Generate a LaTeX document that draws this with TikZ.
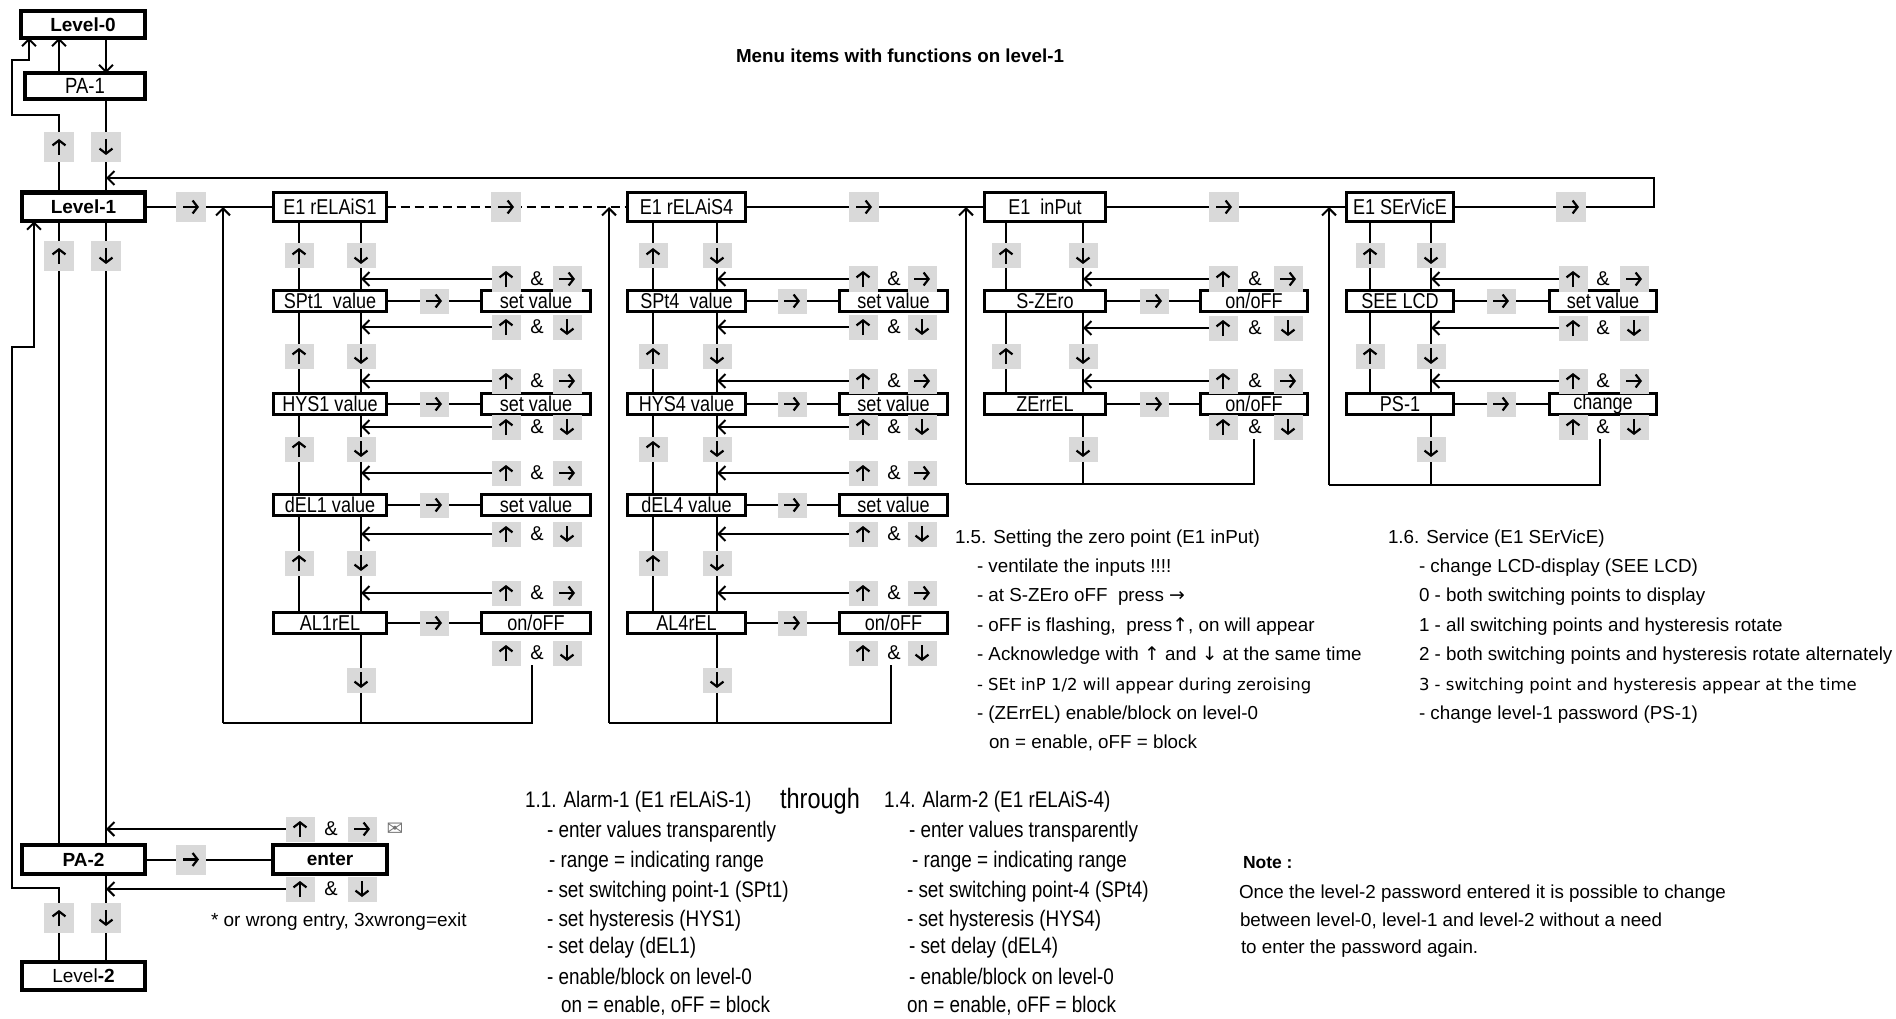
\documentclass[tikz,border=0pt]{standalone}
\usepackage{fontspec}
\setmainfont{Liberation Sans}
\newfontfamily\nar{Liberation Sans}[FakeStretch=0.84]
\newfontfamily\dv{DejaVu Sans}
\usetikzlibrary{arrows.meta}

\tikzset{
 every node/.style={inner sep=0pt, outer sep=0pt},
 conn/.style={line width=2pt},
 arr/.style={line width=2pt, -{Straight Barb[length=7pt,width=14pt]}},
 bx/.style={draw, line width=2.6pt, minimum height=21.4, font=\nar\fontsize{21.5}{21.5}\selectfont},
 e1/.style={bx, minimum height=29.4},
 tbx/.style={draw, line width=4.4pt, minimum height=28.6, font=\bfseries\fontsize{19}{19}\selectfont},
 gbox/.style={fill=black!15, minimum width=29, minimum height=25},
 gbig/.style={minimum width=30, minimum height=30},
 garr/.style={line width=2.2pt, -{Straight Barb[length=5pt,width=13pt]}},
 amp/.style={font=\fontsize{20}{20}\selectfont},
 txt/.style={anchor=mid west, yshift=-4.5pt, font=\fontsize{18.8}{20}\selectfont},
 ntxt/.style={anchor=mid west, yshift=-4.5pt, font=\nar\fontsize{22.5}{24}\selectfont},
 dtxt/.style={anchor=mid west, yshift=-4.5pt, font=\dv\fontsize{16.5}{18}\selectfont},
}

\newcommand\gU[3][]{\node[gbox,#1] (#2) at #3 {};\draw[garr] ([yshift=-8pt]#2.center) -- ([yshift=8pt]#2.center);}
\newcommand\gD[3][]{\node[gbox,#1] (#2) at #3 {};\draw[garr] ([yshift=8pt]#2.center) -- ([yshift=-8pt]#2.center);}
\newcommand\gR[3][]{\node[gbox,#1] (#2) at #3 {};\draw[garr] ([xshift=-8pt]#2.center) -- ([xshift=8pt]#2.center);}
\newcommand\rowR[2]{\gU{#1u}{(\qXU,#2)}\node[amp] (#1a) at (\qXA,#2) {\&};\gR{#1r}{(\qXR,#2)}}
\newcommand\rowD[2]{\gU{#1u}{(\qXU,#2)}\node[amp] (#1a) at (\qXA,#2) {\&};\gD{#1r}{(\qXR,#2)}}

\newcommand\alarmcol[1]{%
\node[e1,minimum width=\qBW] (r#1) at (\qBX,207) {E1 rELAiS#1};
\node[bx,minimum width=\qBW] (r#1b1) at (\qBX,301) {SPt#1~~value};
\node[bx,minimum width=\qBW] (r#1b2) at (\qBX,404) {HYS#1 value};
\node[bx,minimum width=\qBW] (r#1b3) at (\qBX,505) {dEL#1 value};
\node[bx,minimum width=\qBW] (r#1b4) at (\qBX,623) {AL#1rEL};
\node[bx,minimum width=\qSW] (r#1s1) at (\qSX,301) {set value};
\node[bx,minimum width=\qSW] (r#1s2) at (\qSX,404) {set value};
\node[bx,minimum width=\qSW] (r#1s3) at (\qSX,505) {set value};
\node[bx,minimum width=\qSW] (r#1s4) at (\qSX,623) {on/oFF};
\coordinate (r#1up) at (\qUX,0);
\coordinate (r#1dn) at (\qDX,0);
\coordinate (r#1gx) at (\qGX,0);
\coordinate (r#1bot) at (\qVX,723);
\coordinate (r#1ret) at (\qRX,665);
\rowR{r#1ra1}{279}\rowD{r#1rb1}{327}\rowR{r#1ra2}{381}\rowD{r#1rb2}{427}%
\rowR{r#1ra3}{473}\rowD{r#1rb3}{534}\rowR{r#1ra4}{593}\rowD{r#1rb4}{653}%
\foreach \qa/\qb in {r#1/r#1b1,r#1b1/r#1b2,r#1b2/r#1b3,r#1b3/r#1b4}{%
 \draw[conn] (\qa.south -| r#1up) -- (\qb.north -| r#1up);
 \draw[conn] (\qa.south -| r#1dn) -- (\qb.north -| r#1dn);}
\foreach \qr in {ra1,rb1,ra2,rb2,ra3,rb3,ra4}{\draw[arr] (r#1\qr u.west) -- (r#1\qr u.west -| r#1dn);}
\foreach \k in {1,...,4}{\draw[conn] (r#1b\k) -- (r#1s\k); \gR{r#1g\k}{(r#1b\k -| r#1gx)}}
\draw[conn] (r#1b4.south -| r#1dn) -- (r#1bot -| r#1dn);
\draw[conn] (r#1ret) -- (r#1ret |- r#1bot) -- (r#1bot);
\draw[arr] (r#1bot) -- (r#1bot |- r#1.west);
\foreach \y [count=\n] in {256,356,449,563}{\gU{r#1vu\n}{(\qUX,\y)}\gD{r#1vd\n}{(\qDX,\y)}}
\gD{r#1vd5}{(\qDX,680)}
}

\newcommand\twocol[7]{%
\node[e1,minimum width=\qBW] (#1) at (\qBX,207) {#2};
\node[bx,minimum width=\qBW] (#1b1) at (\qBX,301) {#3};
\node[bx,minimum width=\qBW] (#1b2) at (\qBX,404) {#4};
\node[bx,minimum width=\qSW] (#1s1) at (\qSX,301) {#5};
\node[bx,minimum width=\qSW] (#1s2) at (\qSX,404) {#6};
\coordinate (#1up) at (\qUX,0);
\coordinate (#1dn) at (\qDX,0);
\coordinate (#1gx) at (\qGX,0);
\coordinate (#1bot) at (\qVX,#7);
\coordinate (#1ret) at (\qRX,439);
\rowR{#1ra1}{279}\rowD{#1rb1}{328}\rowR{#1ra2}{381}\rowD{#1rb2}{427}%
\foreach \qa/\qb in {#1/#1b1,#1b1/#1b2}{%
 \draw[conn] (\qa.south -| #1up) -- (\qb.north -| #1up);
 \draw[conn] (\qa.south -| #1dn) -- (\qb.north -| #1dn);}
\foreach \qr in {ra1,rb1,ra2}{\draw[arr] (#1\qr u.west) -- (#1\qr u.west -| #1dn);}
\foreach \k in {1,2}{\draw[conn] (#1b\k) -- (#1s\k); \gR{#1g\k}{(#1b\k -| #1gx)}}
\draw[conn] (#1b2.south -| #1dn) -- (#1bot -| #1dn);
\draw[conn] (#1ret) -- (#1ret |- #1bot) -- (#1bot);
\draw[arr] (#1bot) -- (#1bot |- #1.west);
\foreach \y [count=\n] in {256,356}{\gU{#1vu\n}{(\qUX,\y)}\gD{#1vd\n}{(\qDX,\y)}}
\gD{#1vd3}{(\qDX,449)}
}

\begin{document}
\begin{tikzpicture}[x=1pt,y=-1pt]
\path[use as bounding box, fill=white] (0,0) rectangle (1896,1019);

% ---------- title
\node[font=\bfseries\fontsize{18.8}{20}\selectfont] (title) at (900,56) {Menu items with functions on level-1};

% ---------- columns
\def\qBX{330}\def\qBW{113.4}\def\qSX{536}\def\qSW{109.4}\def\qUX{299}\def\qDX{361}\def\qGX{434}
\def\qXU{506}\def\qXA{537}\def\qXR{567}\def\qRX{532}\def\qVX{223}
\alarmcol{1}
\def\qBX{686.5}\def\qBW{118.4}\def\qSX{893.5}\def\qSW{108.4}\def\qUX{653}\def\qDX{717}\def\qGX{792}
\def\qXU{863}\def\qXA{894}\def\qXR{922}\def\qRX{891}\def\qVX{609}
\alarmcol{4}
\def\qBX{1045}\def\qBW{121.4}\def\qSX{1254}\def\qSW{107.4}\def\qUX{1006}\def\qDX{1083}\def\qGX{1154}
\def\qXU{1223}\def\qXA{1255}\def\qXR{1288}\def\qRX{1254}\def\qVX{966}
\twocol{inp}{E1~~inPut}{S-ZEro}{ZErrEL}{on/oFF}{on/oFF}{484}
\def\qBX{1400}\def\qBW{107.4}\def\qSX{1603}\def\qSW{107.4}\def\qUX{1370}\def\qDX{1431}\def\qGX{1501}
\def\qXU{1573}\def\qXA{1603}\def\qXR{1634}\def\qRX{1600}\def\qVX{1329}
\twocol{ser}{E1 SErVicE}{SEE LCD}{PS-1}{set value}{change}{485}

% ---------- left column
\node[tbx,minimum width=123.6,minimum height=26.6] (L0) at (83,24.5) {Level-0};
\node[tbx,minimum width=119.6,minimum height=25.6,font=\nar\fontsize{22}{22}\selectfont] (PA1) at (85,86) {PA-1};
\node[tbx,minimum width=122.6] (L1) at (83.5,207) {Level-1};
\node[tbx,minimum width=122.6] (PA2) at (83.5,859.5) {PA-2};
\node[tbx,minimum width=113.6] (ent) at (330,859.5) {enter};
\node[tbx,minimum width=122.6,minimum height=27.6,font=\fontsize{19}{19}\selectfont] (L2) at (83.5,976) {Level\textbf{-2}};

\coordinate (xa) at (59,0);
\coordinate (xb) at (106,0);
\coordinate (bp1) at (12,115);
\coordinate (bp2) at (29,60);
\coordinate (bp3) at (12,888);
\coordinate (bp4) at (34,347);
\draw[arr] (PA1.north -| xa) -- (L0.south -| xa);
\draw[arr] (L0.south -| xb) -- (PA1.north -| xb);
\draw[conn] (PA1.south -| xb) -- (L1.north -| xb);
\draw[arr] (L1.north -| xa) -- (xa |- bp1) -- (bp1) -- (bp1 |- bp2) -- (bp2) -- (L0.south -| bp2);
\draw[conn] (L1.south -| xa) -- (PA2.north -| xa);
\draw[conn] (L1.south -| xb) -- (PA2.north -| xb);
\draw[arr] (L2.north -| xa) -- (xa |- bp3) -- (bp3) -- (bp3 |- bp4) -- (bp4) -- (L1.south -| bp4);
\draw[conn] (PA2.south -| xb) -- (L2.north -| xb);
\draw[conn] (PA2) -- (ent);
\def\qXU{300}\def\qXA{331}\def\qXR{362}
\rowR{er1}{829}
\rowD{er2}{889}
\draw[arr] (er1u.west) -- (er1u.west -| xb);
\draw[arr] (er2u.west) -- (er2u.west -| xb);
\node[font=\dv\fontsize{20}{20}\selectfont, text=black!55] (env) at (395,829) {✉};
\gU[gbig]{gl1}{(59,147)}
\gD[gbig]{gl2}{(106,147)}
\gU[gbig]{gl3}{(59,256)}
\gD[gbig]{gl4}{(106,256)}
\gU[gbig]{gl5}{(59,918)}
\gD[gbig]{gl6}{(106,918)}
\gR[gbig]{gl7}{(191,859.5)}
\node[txt, font=\fontsize{19}{20}\selectfont] (wrong) at (211,919) {* or wrong entry, 3xwrong=exit};

% ---------- main line
\draw[conn] (L1) -- (r1);
\draw[conn, dash pattern=on 9pt off 5pt] (r1) -- (r4);
\draw[conn] (r4) -- (inp);
\draw[conn] (inp) -- (ser);
\coordinate (tl) at (1654,178);
\draw[arr] (ser.east) -- (ser.east -| tl) -- (tl) -- (tl -| xb);
\gR[gbig]{m1}{(191,207)}
\gR[gbig]{m2}{(506,207)}
\gR[gbig]{m3}{(864,207)}
\gR[gbig]{m4}{(1224,207)}
\gR[gbig]{m5}{(1571,207)}

% ---------- text 1.5
\node[txt] (t5a) at (955,536) {1.5. Setting the zero point (E1 inPut)};
\node[txt] (t5b) at (977,565) {- ventilate the inputs !!!!};
\node[txt] (t5c) at (977,594) {- at S-ZEro oFF~~press {\dv →}};
\node[txt] (t5d) at (977,624) {- oFF is flashing,~~press{\dv ↑}, on will appear};
\node[txt] (t5e) at (977,653) {- Acknowledge with {\dv ↑} and {\dv ↓} at the same time};
\node[dtxt] (t5f) at (977,683) {- SEt inP 1/2 will appear during zeroising};
\node[txt] (t5g) at (977,712) {- (ZErrEL) enable/block on level-0};
\node[txt] (t5h) at (989,741) {on = enable, oFF = block};

% ---------- text 1.6
\node[txt] (t6a) at (1388,536) {1.6. Service (E1 SErVicE)};
\node[txt] (t6b) at (1419,565) {- change LCD-display (SEE LCD)};
\node[txt] (t6c) at (1419,594) {0 - both switching points to display};
\node[txt] (t6d) at (1419,624) {1 - all switching points and hysteresis rotate};
\node[txt] (t6e) at (1419,653) {2 - both switching points and hysteresis rotate alternately};
\node[dtxt] (t6f) at (1419,683) {3 - switching point and hysteresis appear at the time};
\node[txt] (t6g) at (1419,712) {- change level-1 password (PS-1)};

% ---------- text 1.1 / 1.4
\node[ntxt] (t1a) at (525,800) {1.1. Alarm-1 (E1 rELAiS-1)};
\node[anchor=mid, yshift=-5.5pt, font=\nar\fontsize{28}{28}\selectfont] (thr) at (820,800) {through};
\node[ntxt] (t1b) at (547,830) {- enter values transparently};
\node[ntxt] (t1c) at (549,860) {- range = indicating range};
\node[ntxt] (t1d) at (547,890) {- set switching point-1 (SPt1)};
\node[ntxt] (t1e) at (547,919) {- set hysteresis (HYS1)};
\node[ntxt] (t1f) at (547,946) {- set delay (dEL1)};
\node[ntxt] (t1g) at (547,977) {- enable/block on level-0};
\node[ntxt] (t1h) at (561,1005) {on = enable, oFF = block};

\node[ntxt] (t4a) at (884,800) {1.4. Alarm-2 (E1 rELAiS-4)};
\node[ntxt] (t4b) at (909,830) {- enter values transparently};
\node[ntxt] (t4c) at (912,860) {- range = indicating range};
\node[ntxt] (t4d) at (907,890) {- set switching point-4 (SPt4)};
\node[ntxt] (t4e) at (907,919) {- set hysteresis (HYS4)};
\node[ntxt] (t4f) at (909,946) {- set delay (dEL4)};
\node[ntxt] (t4g) at (909,977) {- enable/block on level-0};
\node[ntxt] (t4h) at (907,1005) {on = enable, oFF = block};

% ---------- note
\node[txt, font=\bfseries\fontsize{17.5}{20}\selectfont] (nt) at (1243,861) {Note :};
\node[txt] (n1) at (1239,891) {Once the level-2 password entered it is possible to change};
\node[txt] (n2) at (1240,919) {between level-0, level-1 and level-2 without a need};
\node[txt] (n3) at (1241,946) {to enter the password again.};
\end{tikzpicture}
\end{document}
